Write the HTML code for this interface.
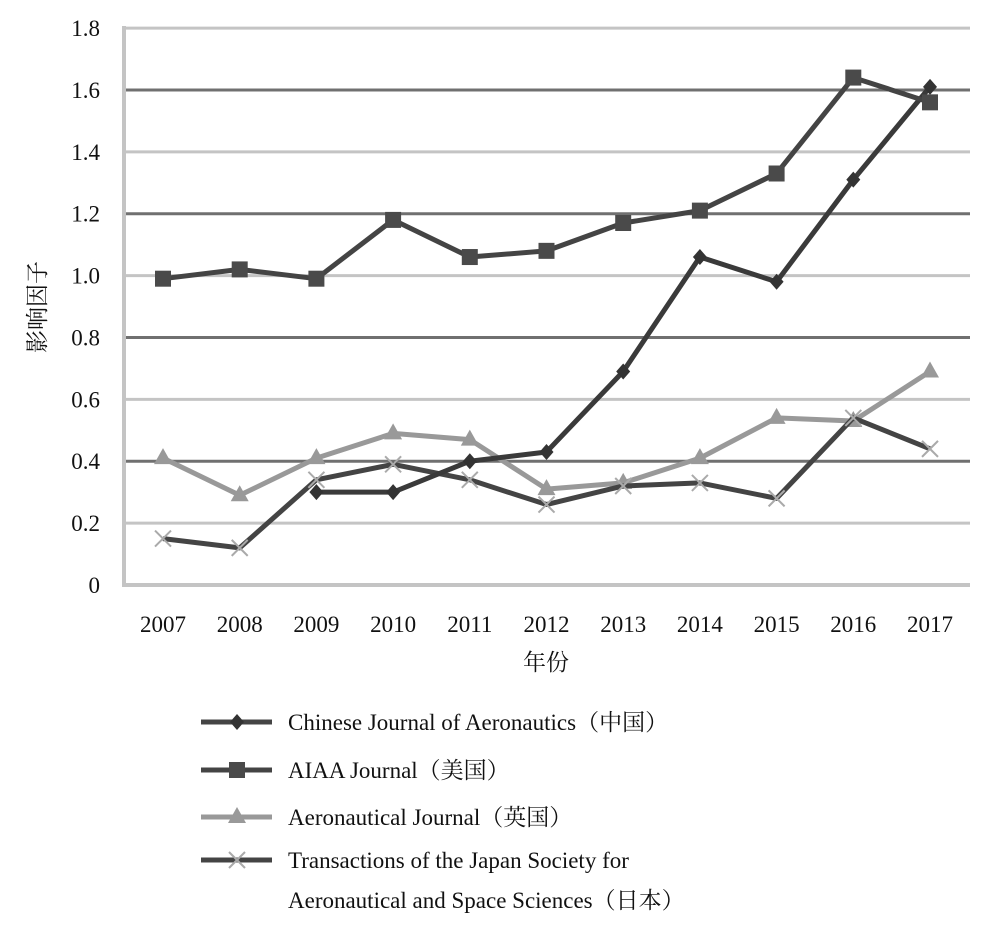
<!DOCTYPE html>
<html><head><meta charset="utf-8"><style>
body{margin:0;background:#fff;}
svg text{font-family:"Liberation Serif","Noto Serif CJK SC",serif;fill:#111;}
</style></head><body>
<svg id="s" width="995" height="929" xmlns="http://www.w3.org/2000/svg"></svg>
<script>
const s=document.getElementById('s');let h='';
const Y=v=>585-v*309.4, X=i=>163+76.7*i;
for(let k=1;k<=9;k++){const v=k*0.2,y=Y(v);h+=`<line x1="124" x2="970" y1="${y}" y2="${y}" stroke="${k%2==0?'#707070':'#c4c4c4'}" stroke-width="3"/>`;}
h+=`<line x1="124" x2="124" y1="26" y2="587" stroke="#c4c4c4" stroke-width="4"/><line x1="122" x2="970" y1="585" y2="585" stroke="#c4c4c4" stroke-width="4"/>`;
const lab=['0','0.2','0.4','0.6','0.8','1.0','1.2','1.4','1.6','1.8'];
lab.forEach((l,k)=>{h+=`<text x="100" y="${Y(k*0.2)+8}" font-size="23" text-anchor="end">${l}</text>`;});
for(let i=0;i<11;i++)h+=`<text x="${X(i)}" y="632" font-size="23" text-anchor="middle">${2007+i}</text>`;
h+=`<text x="546" y="670" font-size="23" text-anchor="middle">年份</text>`;
h+=`<text transform="translate(45,307) rotate(-90)" font-size="23" text-anchor="middle">影响因子</text>`;
const S=[
{d:[0.41,0.29,0.41,0.49,0.47,0.31,0.33,0.41,0.54,0.53,0.69],c:'#999',m:'tri'},
{d:[0.15,0.12,0.34,0.39,0.34,0.26,0.32,0.33,0.28,0.54,0.44],c:'#444',m:'x'},
{d:[null,null,0.30,0.30,0.40,0.43,0.69,1.06,0.98,1.31,1.61],c:'#3a3a3a',m:'dia'},
{d:[0.99,1.02,0.99,1.18,1.06,1.08,1.17,1.21,1.33,1.64,1.56],c:'#444',m:'sq'}];
function mk(m,x,y,c){
 if(m=='sq')return `<rect x="${x-8}" y="${y-8}" width="16" height="16" fill="#4a4a4a"/>`;
 if(m=='tri')return `<polygon points="${x},${y-10} ${x+9},${y+6} ${x-9},${y+6}" fill="#999"/>`;
 if(m=='dia')return `<polygon points="${x},${y-8} ${x+7},${y} ${x},${y+8} ${x-7},${y}" fill="#333"/>`;
 return `<path d="M${x-8} ${y-8}L${x+8} ${y+8}M${x+8} ${y-8}L${x-8} ${y+8}" stroke="#aaa" stroke-width="2"/>`;
}
S.forEach(sr=>{let p=[];sr.d.forEach((v,i)=>{if(v!=null)p.push(X(i)+','+Y(v));});
 h+=`<polyline points="${p.join(' ')}" fill="none" stroke="${sr.c}" stroke-width="5" stroke-linejoin="round"/>`;
 sr.d.forEach((v,i)=>{if(v!=null)h+=mk(sr.m,X(i),Y(v),sr.c);});});
const L=[['Chinese Journal of Aeronautics（中国）','#444','dia',722],['AIAA Journal（美国）','#444','sq',770],['Aeronautical Journal（英国）','#999','tri',817],['Transactions of the Japan Society for','#444','x',860]];
L.forEach(([t,c,m,y])=>{h+=`<line x1="201" x2="272" y1="${y}" y2="${y}" stroke="${c}" stroke-width="5"/>`+mk(m,237,y,c)+`<text x="288" y="${y+8}" font-size="23">${t}</text>`;});
h+=`<text x="288" y="908" font-size="23">Aeronautical and Space Sciences（日本）</text>`;
s.innerHTML=h;
</script>
</body></html>
